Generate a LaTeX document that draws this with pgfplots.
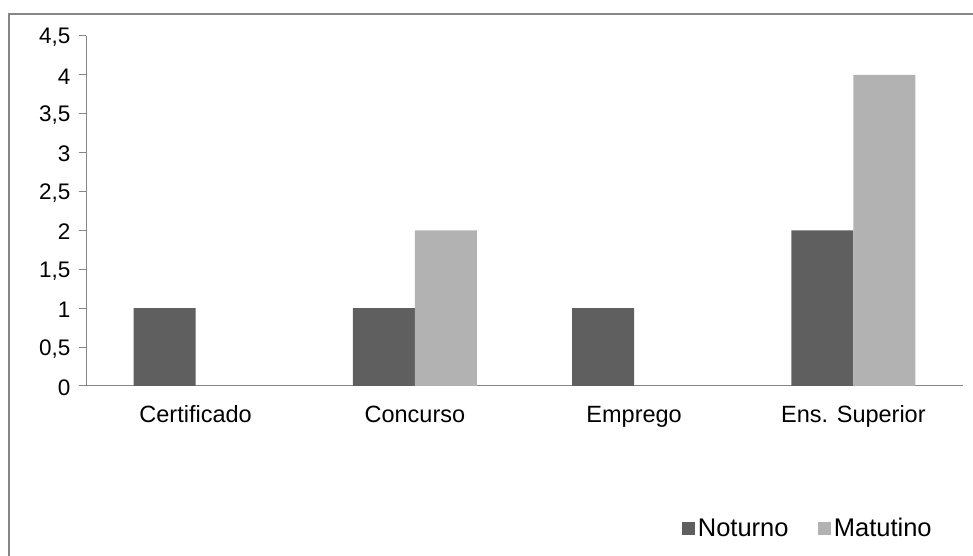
\documentclass[border=0pt]{standalone}
\usepackage{pgfplots}
\pgfplotsset{compat=1.18}
\usepackage{fontspec}
\setmainfont{Liberation Sans}
\definecolor{dark}{HTML}{5F5F5F}
\definecolor{light}{HTML}{B2B2B2}
\definecolor{axgray}{HTML}{868686}
\begin{document}
\begin{tikzpicture}[x=1pt,y=1pt]
\useasboundingbox (0,0) rectangle (973,556);
\draw[axgray, line width=1.3pt] (9,-10) rectangle (990,542);
\begin{axis}[
  at={(86pt,170pt)}, anchor=origin,
  scale only axis, width=877pt, height=350pt,
  xmin=0.5, xmax=4.5, ymin=0, ymax=4.5,
  ybar=0pt, bar width=62pt,
  axis x line=bottom, axis y line=left,
  axis line style={draw=axgray, line width=1pt, -},
  tick style={draw=axgray, line width=1pt},
  tick align=outside,
  major tick length=7pt,
  xtick={1,2,3,4},
  xticklabels={Certificado,Concurso,Emprego,Ens. Superior},
  x tick style={draw=none},
  extra x ticks={0.5,1.5,2.5,3.5,4.5},
  extra x tick labels={},
  extra x tick style={tick style={draw=axgray, line width=1pt}, major tick length=6pt},
  ytick={0,0.5,...,4.5},
  yticklabel={\pgfmathprintnumber[use comma,1000 sep={},assume math mode=true]{\tick}},
  yticklabel style={font=\fontsize{22.5}{25}\selectfont, xshift=-5pt, yshift=-1.5pt},
  xticklabel style={font=\fontsize{23.5}{26}\selectfont, text height=17.2pt, text depth=5pt, yshift=-9pt},
  legend style={draw=none, fill=none, at={(0.676,-0.406)}, anchor=west,
    legend columns=2, font=\fontsize{25.5}{28}\selectfont,
    /tikz/every even column/.append style={column sep=27pt},
    nodes={inner xsep=2.5pt, inner ysep=1pt}},
  legend image code/.code={\fill[#1,draw=none] (1pt,-7pt) rectangle (14.3pt,6.3pt);},
]
\addplot[fill=dark, draw=none] coordinates {(1,1) (2,1) (3,1) (4,2)};
\addplot[fill=light, draw=none] coordinates {(2,2) (4,4)};
\legend{Noturno,Matutino}
\end{axis}
\end{tikzpicture}
\end{document}
